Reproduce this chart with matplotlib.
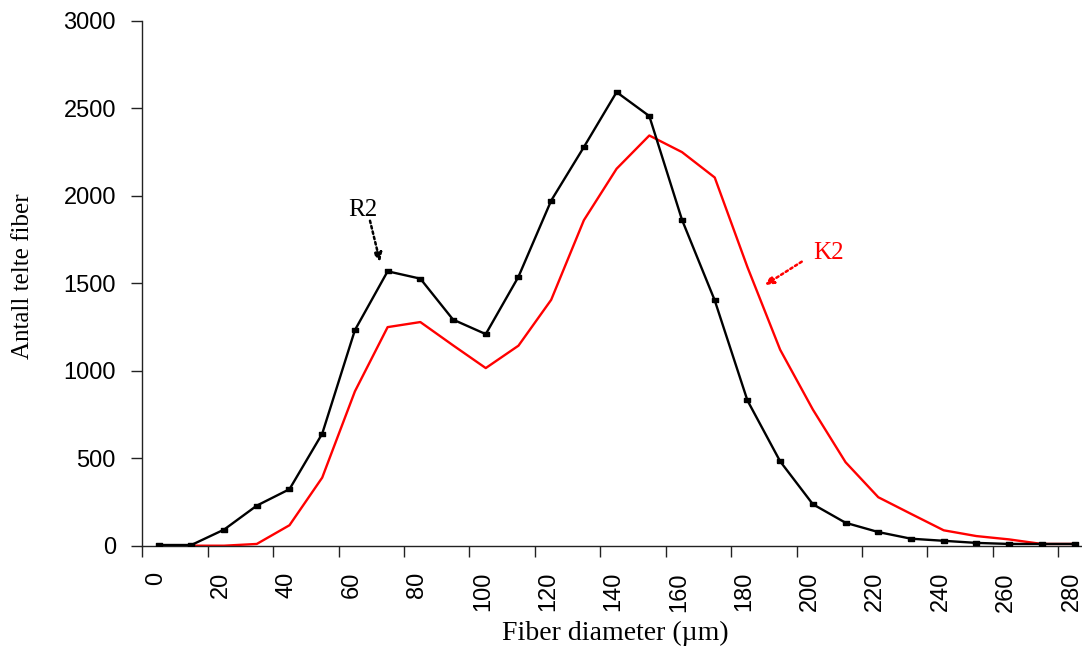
import numpy as np
import matplotlib
matplotlib.use("Agg")
import matplotlib.pyplot as plt
from matplotlib.transforms import ScaledTranslation

# Fiber diameter classes (µm) and counted fibers per class
diameters = [0, 10, 20, 30, 40, 50, 60, 70, 80, 90, 100, 110, 120, 130, 140,
             150, 160, 170, 180, 190, 200, 210, 220, 230, 240, 250, 260, 270, 280]
r2_counts = [4, 4, 92, 229, 323, 640, 1232, 1568, 1526, 1292, 1209, 1537, 1972,
             2278, 2592, 2455, 1862, 1402, 830, 482, 237, 131, 78, 40, 28, 16, 10, 10, 10]
k2_counts = [0, 0, 0, 10, 117, 389, 882, 1249, 1278, 1145, 1015, 1143, 1405,
             1860, 2154, 2344, 2249, 2104, 1592, 1120, 778, 477, 277, 182, 88, 55, 36, 10, 10]
tick_labels = [str(d) for d in diameters[::2]]

W, H = 1082, 647
fig = plt.figure(figsize=(W / 100, H / 100), dpi=100)

left_px, bottom_px, top_px = 142.3, 545.7, 20.7
cat_px = 32.71
ax = fig.add_axes([left_px / W, (H - bottom_px) / H,
                   (W - left_px) / W, (bottom_px - top_px) / H])

pos = np.arange(len(diameters))
rect = [(-1, -0.6), (1, -0.6), (1, 0.6), (-1, 0.6), (-1, -0.6)]

ax.plot(pos, k2_counts, color="#ff0000", lw=1.7, zorder=2)
ax.plot(pos, r2_counts, color="black", lw=1.7, marker=rect, markersize=4.6,
        markerfacecolor="black", markeredgecolor="black", zorder=3)

ax.set_xlim(-0.5, -0.5 + (W - left_px) / cat_px)
ax.set_ylim(0, 3000)

for s in ("top", "right"):
    ax.spines[s].set_visible(False)
for s in ("left", "bottom"):
    ax.spines[s].set_linewidth(1.0)
    ax.spines[s].set_color("#222222")

# Category axis: labels at every other class, tick marks between classes
ax.set_xticks(pos[::2])
ax.set_xticklabels(tick_labels, rotation=90, fontsize=17,
                   fontfamily="Liberation Sans")
ax.set_xticks(np.arange(-0.5, len(diameters) - 0.5, 2), minor=True)
ax.tick_params(axis="x", which="major", length=0, pad=19)
ax.tick_params(axis="x", which="minor", length=8, width=1.0, color="#222222",
               direction="out")
shift = ScaledTranslation(-3 / 100, 0, fig.dpi_scale_trans)
for lab in ax.get_xticklabels():
    lab.set_transform(lab.get_transform() + shift)

ax.set_yticks(np.arange(0, 3001, 500))
ax.tick_params(axis="y", length=8, width=1.0, color="#222222", pad=11,
               labelsize=17)
for lab in ax.get_yticklabels():
    lab.set_fontfamily("Liberation Sans")

fig.text(615 / W, (H - 633) / H, "Fiber diameter (\u00b5m)", ha="center",
         va="center", fontsize=20, fontfamily="Liberation Serif")
fig.text(23 / W, (H - 276.5) / H, "Antall telte fiber", ha="center",
         va="center", rotation=90, fontsize=18, fontfamily="Liberation Serif")

# Series labels with dotted pointers
ax.text(6.256, 1918, "R2", ha="center", va="center", fontsize=18,
        fontfamily="Liberation Serif", color="black")
ax.annotate("", xy=(6.767, 1623), xytext=(6.461, 1857),
            arrowprops=dict(arrowstyle="-|>,head_length=0.5,head_width=0.25",
                            linestyle=(0, (1, 1.2)), lw=1.8, color="black",
                            shrinkA=0, shrinkB=0))
ax.text(20.49, 1674, "K2", ha="center", va="center", fontsize=18,
        fontfamily="Liberation Serif", color="#ff0000")
ax.annotate("", xy=(18.54, 1490), xytext=(19.66, 1623),
            arrowprops=dict(arrowstyle="-|>,head_length=0.5,head_width=0.25",
                            linestyle=(0, (1, 1.2)), lw=1.8, color="#ff0000",
                            shrinkA=0, shrinkB=0))

fig.savefig("out.png", dpi=100)
